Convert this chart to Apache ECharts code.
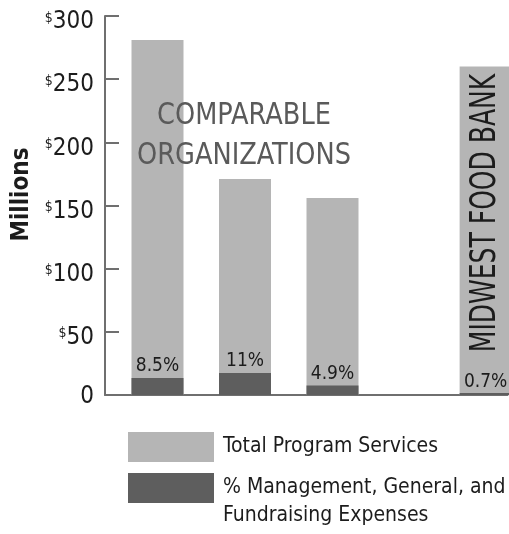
<!DOCTYPE html>
<html>
<head>
<meta charset="utf-8">
<script src="https://cdn.jsdelivr.net/npm/echarts@6/dist/echarts.min.js"></script>
<style>html,body{margin:0;padding:0;background:#fff}#c{width:509px;height:534px}</style>
</head>
<body>
<div id="c"></div>
<script>
// ---- data ----
const categories = ["Comparable Org 1", "Comparable Org 2", "Comparable Org 3", "Midwest Food Bank"];
const programServices = [281, 171, 156, 260];
const mgmtFundraising = [13.5, 17.5, 7.5, 1.5];
const mgmtPctLabels = ["8.5%", "11%", "4.9%", "0.7%"];
const yTicks = [0, 50, 100, 150, 200, 250, 300];
const seriesNames = ["Total Program Services", "% Management, General, and\nFundraising Expenses"];
const groupLabel = "COMPARABLE\nORGANIZATIONS";
const highlightLabel = "MIDWEST FOOD BANK";

// ---- layout (not data) ----
const slot = [1, 2, 3, 4.75];
const FONT = '"DejaVu Sans Condensed", "DejaVu Sans", sans-serif';
const LIGHT = '#b5b5b5', DARK = '#5e5e5e', AXIS = '#6f6f6f', INK = '#1c1c1c';

const chart = echarts.init(document.getElementById('c'), null, {renderer: 'canvas'});
chart.setOption({
  animation: false,
  textStyle: {fontFamily: FONT},
  grid: {left: 105, right: 1.5, top: 16, bottom: 139, containLabel: false, outerBoundsMode: 'none'},
  xAxis: {
    type: 'value', min: 0.4, max: 5.0,
    axisLine: {show: true, onZero: false, lineStyle: {color: AXIS, width: 2}},
    axisTick: {show: false}, axisLabel: {show: false}, splitLine: {show: false}
  },
  yAxis: {
    type: 'value', min: yTicks[0], max: yTicks[yTicks.length - 1], interval: 50,
    name: 'Millions', nameLocation: 'middle', nameRotate: 90, nameGap: 64,
    nameTextStyle: {fontSize: 24, fontWeight: 'bold', color: INK, fontFamily: FONT, padding: [0, 0, 0, 22]},
    axisLine: {show: true, lineStyle: {color: AXIS, width: 2}},
    axisTick: {show: true, inside: true, length: 14, lineStyle: {color: AXIS, width: 2}},
    splitLine: {show: false},
    axisLabel: {
      margin: 11, color: INK,
      formatter: v => v === 0 ? '{z|0}' : '{d|$}{n|' + v + '}',
      rich: {
        d: {fontSize: 14, lineHeight: 14, color: INK, fontFamily: FONT, verticalAlign: 'top', padding: [7, 0, 0, 0]},
        n: {fontSize: 24, lineHeight: 24, color: INK, fontFamily: FONT, verticalAlign: 'top', padding: [6, 0, 0, 0]},
        z: {fontSize: 24, color: INK, fontFamily: FONT, padding: [3, 0, 0, 0]}
      }
    }
  },
  legend: {
    orient: 'vertical', left: 123, top: 427, height: 200, itemWidth: 86, itemHeight: 30, itemGap: -16,
    icon: 'rect', selectedMode: false,
    formatter: name => name === seriesNames[1] ? '\n' + name : name,
    textStyle: {fontSize: 21, color: INK, fontFamily: FONT, lineHeight: 28, padding: [0, 0, 0, 4]},
    data: [{name: seriesNames[0]}, {name: seriesNames[1]}]
  },
  series: [
    {
      name: seriesNames[0], type: 'bar', barWidth: 52, barGap: '-100%',
      itemStyle: {color: LIGHT},
      data: categories.map((c, i) => [slot[i], programServices[i]])
    },
    {
      name: seriesNames[1], type: 'bar', barWidth: 52, barGap: '-100%',
      itemStyle: {color: DARK},
      label: {
        show: true, position: 'top', distance: 2,
        fontSize: 19, color: INK, fontFamily: FONT,
        formatter: p => mgmtPctLabels[p.dataIndex]
      },
      data: categories.map((c, i) => [slot[i], mgmtFundraising[i]])
    }
  ]
});

// annotations placed via the chart's own scales
const pMid = chart.convertToPixel({gridIndex: 0}, [slot[3], 0]);
chart.setOption({
  graphic: [
    {
      type: 'text', x: 244, y: 136, scaleX: 0.92, z: 100,
      style: {text: groupLabel, font: '31px ' + FONT, fill: '#5a5a5a', align: 'center', verticalAlign: 'middle', lineHeight: 40}
    },
    {
      type: 'text', x: pMid[0], y: 213, rotation: Math.PI / 2, scaleX: 0.795, z: 100,
      style: {text: highlightLabel, font: '35px ' + FONT, fill: INK, align: 'center', verticalAlign: 'middle'}
    }
  ]
});
</script>
</body>
</html>
